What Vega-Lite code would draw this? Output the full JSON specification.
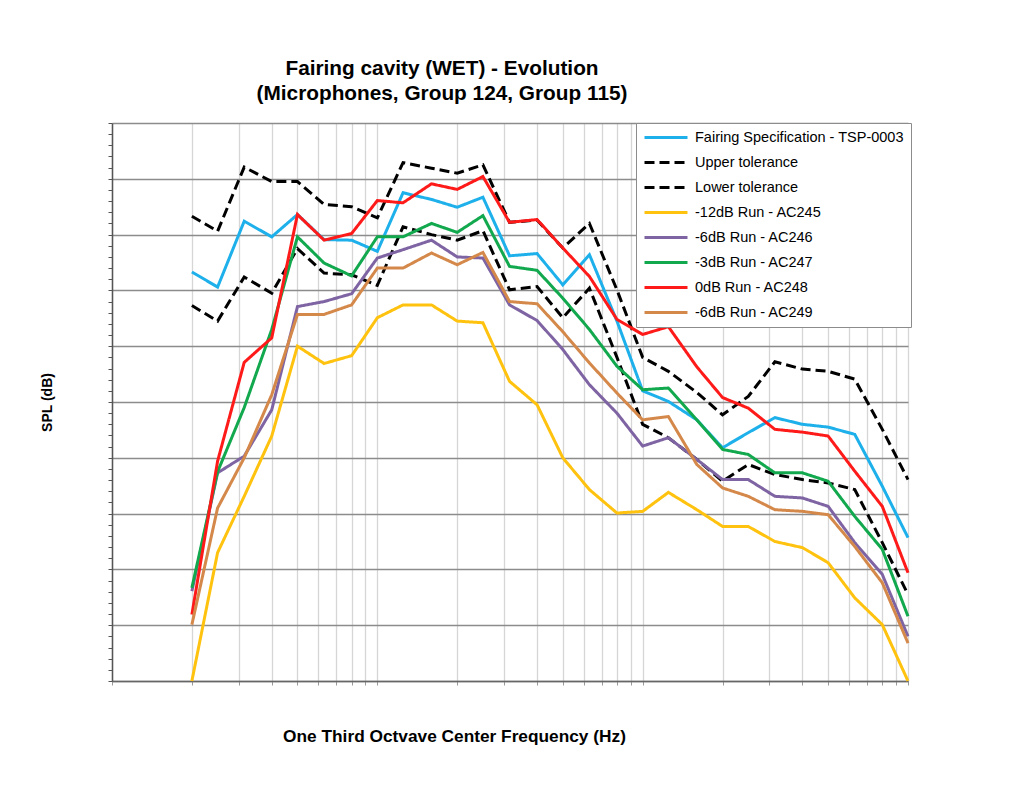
{
  "$schema": "https://vega.github.io/schema/vega-lite/v6.json",
  "width": 796,
  "height": 558,
  "autosize": {"type": "none"},
  "padding": {"left": 112, "top": 123, "right": 124, "bottom": 104},
  "background": "white",
  "title": {
    "text": ["Fairing cavity (WET) - Evolution", "(Microphones, Group 124, Group 115)"],
    "font": "Liberation Sans",
    "fontSize": 20.8,
    "fontWeight": "bold",
    "color": "#000000",
    "anchor": "middle",
    "dx": -68,
    "offset": -2,
    "baseline": "bottom",
    "lineHeight": 25
  },
  "data": {
    "values": [
      {"f": 20, "Fairing Specification - TSP-0003": 123.3, "Upper tolerance": 133.3, "Lower tolerance": 117.3, "-12dB Run - AC245": 50.0, "-6dB Run - AC246": 66.1, "-3dB Run - AC247": 66.7, "0dB Run - AC248": 61.9, "-6dB Run - AC249": 60.1},
      {"f": 25, "Fairing Specification - TSP-0003": 120.6, "Upper tolerance": 130.6, "Lower tolerance": 114.5, "-12dB Run - AC245": 73.0, "-6dB Run - AC246": 87.3, "-3dB Run - AC247": 87.5, "0dB Run - AC248": 89.4, "-6dB Run - AC249": 81.0},
      {"f": 31.5, "Fairing Specification - TSP-0003": 132.4, "Upper tolerance": 142.1, "Lower tolerance": 122.4, "-12dB Run - AC245": 83.1, "-6dB Run - AC246": 90.3, "-3dB Run - AC247": 99.0, "0dB Run - AC248": 107.1, "-6dB Run - AC249": 90.0},
      {"f": 40, "Fairing Specification - TSP-0003": 129.6, "Upper tolerance": 139.5, "Lower tolerance": 119.5, "-12dB Run - AC245": 93.9, "-6dB Run - AC246": 98.6, "-3dB Run - AC247": 113.0, "0dB Run - AC248": 111.5, "-6dB Run - AC249": 101.3},
      {"f": 50, "Fairing Specification - TSP-0003": 133.6, "Upper tolerance": 139.5, "Lower tolerance": 127.5, "-12dB Run - AC245": 110.0, "-6dB Run - AC246": 117.1, "-3dB Run - AC247": 129.6, "0dB Run - AC248": 133.6, "-6dB Run - AC249": 115.7},
      {"f": 63, "Fairing Specification - TSP-0003": 129.1, "Upper tolerance": 135.4, "Lower tolerance": 123.1, "-12dB Run - AC245": 106.9, "-6dB Run - AC246": 118.0, "-3dB Run - AC247": 124.9, "0dB Run - AC248": 129.0, "-6dB Run - AC249": 115.7},
      {"f": 80, "Fairing Specification - TSP-0003": 129.0, "Upper tolerance": 135.0, "Lower tolerance": 122.8, "-12dB Run - AC245": 108.3, "-6dB Run - AC246": 119.4, "-3dB Run - AC247": 122.6, "0dB Run - AC248": 130.2, "-6dB Run - AC249": 117.4},
      {"f": 100, "Fairing Specification - TSP-0003": 127.0, "Upper tolerance": 133.0, "Lower tolerance": 120.9, "-12dB Run - AC245": 115.1, "-6dB Run - AC246": 125.8, "-3dB Run - AC247": 129.6, "0dB Run - AC248": 136.1, "-6dB Run - AC249": 124.0},
      {"f": 125, "Fairing Specification - TSP-0003": 137.5, "Upper tolerance": 142.9, "Lower tolerance": 131.4, "-12dB Run - AC245": 117.4, "-6dB Run - AC246": 127.3, "-3dB Run - AC247": 129.6, "0dB Run - AC248": 135.7, "-6dB Run - AC249": 124.0},
      {"f": 160, "Fairing Specification - TSP-0003": 136.3, "Upper tolerance": 141.9, "Lower tolerance": 130.0, "-12dB Run - AC245": 117.4, "-6dB Run - AC246": 129.0, "-3dB Run - AC247": 132.0, "0dB Run - AC248": 139.1, "-6dB Run - AC249": 126.7},
      {"f": 200, "Fairing Specification - TSP-0003": 134.9, "Upper tolerance": 141.0, "Lower tolerance": 129.0, "-12dB Run - AC245": 114.5, "-6dB Run - AC246": 126.0, "-3dB Run - AC247": 130.4, "0dB Run - AC248": 138.1, "-6dB Run - AC249": 124.6},
      {"f": 250, "Fairing Specification - TSP-0003": 136.7, "Upper tolerance": 142.5, "Lower tolerance": 130.7, "-12dB Run - AC245": 114.2, "-6dB Run - AC246": 125.8, "-3dB Run - AC247": 133.4, "0dB Run - AC248": 140.4, "-6dB Run - AC249": 126.8},
      {"f": 315, "Fairing Specification - TSP-0003": 126.2, "Upper tolerance": 132.2, "Lower tolerance": 120.1, "-12dB Run - AC245": 103.7, "-6dB Run - AC246": 117.4, "-3dB Run - AC247": 124.3, "0dB Run - AC248": 132.2, "-6dB Run - AC249": 118.0},
      {"f": 400, "Fairing Specification - TSP-0003": 126.6, "Upper tolerance": 132.6, "Lower tolerance": 120.7, "-12dB Run - AC245": 99.5, "-6dB Run - AC246": 114.6, "-3dB Run - AC247": 123.6, "0dB Run - AC248": 132.7, "-6dB Run - AC249": 117.6},
      {"f": 500, "Fairing Specification - TSP-0003": 121.0, "Upper tolerance": 127.6, "Lower tolerance": 115.1, "-12dB Run - AC245": 90.0, "-6dB Run - AC246": 109.4, "-3dB Run - AC247": 118.6, "0dB Run - AC248": 127.6, "-6dB Run - AC249": 112.6},
      {"f": 630, "Fairing Specification - TSP-0003": 126.4, "Upper tolerance": 132.0, "Lower tolerance": 120.4, "-12dB Run - AC245": 84.3, "-6dB Run - AC246": 103.1, "-3dB Run - AC247": 113.0, "0dB Run - AC248": 122.5, "-6dB Run - AC249": 107.0},
      {"f": 800, "Fairing Specification - TSP-0003": 114.5, "Upper tolerance": 120.1, "Lower tolerance": 108.0, "-12dB Run - AC245": 80.1, "-6dB Run - AC246": 98.0, "-3dB Run - AC247": 106.4, "0dB Run - AC248": 114.8, "-6dB Run - AC249": 101.6},
      {"f": 1000, "Fairing Specification - TSP-0003": 102.0, "Upper tolerance": 108.0, "Lower tolerance": 96.0, "-12dB Run - AC245": 80.4, "-6dB Run - AC246": 92.1, "-3dB Run - AC247": 102.2, "0dB Run - AC248": 112.1, "-6dB Run - AC249": 96.8},
      {"f": 1250, "Fairing Specification - TSP-0003": 100.1, "Upper tolerance": 105.5, "Lower tolerance": 93.6, "-12dB Run - AC245": 83.8, "-6dB Run - AC246": 93.6, "-3dB Run - AC247": 102.5, "0dB Run - AC248": 113.5, "-6dB Run - AC249": 97.4},
      {"f": 1600, "Fairing Specification - TSP-0003": 96.8, "Upper tolerance": 101.7, "Lower tolerance": 89.7, "-12dB Run - AC245": 80.7, "-6dB Run - AC246": 89.7, "-3dB Run - AC247": 96.8, "0dB Run - AC248": 106.3, "-6dB Run - AC249": 88.8},
      {"f": 2000, "Fairing Specification - TSP-0003": 91.8, "Upper tolerance": 97.7, "Lower tolerance": 85.8, "-12dB Run - AC245": 77.7, "-6dB Run - AC246": 86.1, "-3dB Run - AC247": 91.5, "0dB Run - AC248": 100.8, "-6dB Run - AC249": 84.6},
      {"f": 2500, "Fairing Specification - TSP-0003": 94.5, "Upper tolerance": 101.0, "Lower tolerance": 88.8, "-12dB Run - AC245": 77.7, "-6dB Run - AC246": 86.1, "-3dB Run - AC247": 90.6, "0dB Run - AC248": 98.9, "-6dB Run - AC249": 83.1},
      {"f": 3150, "Fairing Specification - TSP-0003": 97.2, "Upper tolerance": 107.2, "Lower tolerance": 87.0, "-12dB Run - AC245": 75.0, "-6dB Run - AC246": 83.1, "-3dB Run - AC247": 87.3, "0dB Run - AC248": 95.1, "-6dB Run - AC249": 80.7},
      {"f": 4000, "Fairing Specification - TSP-0003": 96.0, "Upper tolerance": 105.9, "Lower tolerance": 86.1, "-12dB Run - AC245": 73.9, "-6dB Run - AC246": 82.8, "-3dB Run - AC247": 87.3, "0dB Run - AC248": 94.6, "-6dB Run - AC249": 80.4},
      {"f": 5000, "Fairing Specification - TSP-0003": 95.5, "Upper tolerance": 105.5, "Lower tolerance": 85.5, "-12dB Run - AC245": 71.2, "-6dB Run - AC246": 81.3, "-3dB Run - AC247": 85.8, "0dB Run - AC248": 93.9, "-6dB Run - AC249": 79.8},
      {"f": 6300, "Fairing Specification - TSP-0003": 94.2, "Upper tolerance": 104.1, "Lower tolerance": 84.3, "-12dB Run - AC245": 64.9, "-6dB Run - AC246": 74.8, "-3dB Run - AC247": 79.5, "0dB Run - AC248": 87.6, "-6dB Run - AC249": 74.1},
      {"f": 8000, "Fairing Specification - TSP-0003": 84.9, "Upper tolerance": 95.1, "Lower tolerance": 74.8, "-12dB Run - AC245": 60.1, "-6dB Run - AC246": 69.1, "-3dB Run - AC247": 73.6, "0dB Run - AC248": 81.3, "-6dB Run - AC249": 67.6},
      {"f": 10000, "Fairing Specification - TSP-0003": 75.7, "Upper tolerance": 86.1, "Lower tolerance": 65.5, "-12dB Run - AC245": 50.0, "-6dB Run - AC246": 58.0, "-3dB Run - AC247": 61.6, "0dB Run - AC248": 69.4, "-6dB Run - AC249": 56.8}
    ]
  },
  "transform": [
    {"fold": ["Fairing Specification - TSP-0003", "Upper tolerance", "Lower tolerance", "-12dB Run - AC245", "-6dB Run - AC246", "-3dB Run - AC247", "0dB Run - AC248", "-6dB Run - AC249"], "as": ["series", "spl"]}
  ],
  "mark": {"type": "line", "strokeWidth": 3, "clip": false},
  "encoding": {
    "x": {
      "field": "f",
      "type": "quantitative",
      "scale": {"type": "log", "domain": [10, 10000], "nice": false},
      "axis": {
        "values": [10, 20, 30, 40, 50, 60, 70, 80, 90, 100, 200, 300, 400, 500, 600, 700, 800, 900, 1000, 2000, 3000, 4000, 5000, 6000, 7000, 8000, 9000, 10000],
        "labels": false,
        "title": "One Third Octvave Center Frequency (Hz)",
        "titleFont": "Liberation Sans",
        "titleFontSize": 17.3,
        "titleFontWeight": "bold",
        "titleColor": "#000000",
        "titleX": 342,
        "titleY": 55,
        "titleAlign": "center",
        "titleBaseline": "middle",
        "grid": true,
        "gridColor": "#d6d6d6",
        "gridWidth": 1.3,
        "domainColor": "#666666",
        "domainWidth": 1.5,
        "tickColor": "#999999",
        "tickSize": 4
      }
    },
    "y": {
      "field": "spl",
      "type": "quantitative",
      "scale": {"domain": [50, 150], "nice": false, "zero": false},
      "axis": {
        "values": [50, 52, 54, 56, 58, 60, 62, 64, 66, 68, 70, 72, 74, 76, 78, 80, 82, 84, 86, 88, 90, 92, 94, 96, 98, 100, 102, 104, 106, 108, 110, 112, 114, 116, 118, 120, 122, 124, 126, 128, 130, 132, 134, 136, 138, 140, 142, 144, 146, 148, 150],
        "labels": false,
        "title": "SPL (dB)",
        "titleFont": "Liberation Sans",
        "titleFontSize": 14,
        "titleFontWeight": "bold",
        "titleColor": "#000000",
        "titleX": -65,
        "titleY": 279,
        "titleAngle": -90,
        "titleAlign": "center",
        "titleBaseline": "middle",
        "grid": true,
        "gridColor": "#8c8c8c",
        "gridWidth": 1.6,
        "gridOpacity": {"condition": {"test": "datum.value % 10 === 0", "value": 1}, "value": 0},
        "domainColor": "#555555",
        "domainWidth": 1.5,
        "tickColor": "#555555",
        "tickSize": 4
      }
    },
    "color": {
      "field": "series",
      "type": "nominal",
      "scale": {
        "domain": ["Fairing Specification - TSP-0003", "Upper tolerance", "Lower tolerance", "-12dB Run - AC245", "-6dB Run - AC246", "-3dB Run - AC247", "0dB Run - AC248", "-6dB Run - AC249"],
        "range": ["#1db0ea", "#000000", "#000000", "#ffc20e", "#7f64a3", "#12a84e", "#ff1a1a", "#d4884a"]
      },
      "legend": {"title": null}
    },
    "strokeDash": {
      "field": "series",
      "type": "nominal",
      "scale": {
        "domain": ["Fairing Specification - TSP-0003", "Upper tolerance", "Lower tolerance", "-12dB Run - AC245", "-6dB Run - AC246", "-3dB Run - AC247", "0dB Run - AC248", "-6dB Run - AC249"],
        "range": [[1, 0], [10, 5], [10, 5], [1, 0], [1, 0], [1, 0], [1, 0], [1, 0]]
      },
      "legend": {"title": null}
    }
  },
  "config": {
    "view": {"stroke": null},
    "legend": {
      "orient": "none",
      "legendX": 524,
      "legendY": 0,
      "symbolType": "stroke",
      "symbolSize": 1849,
      "symbolStrokeWidth": 3,
      "labelFont": "Liberation Sans",
      "labelFontSize": 14.5,
      "labelColor": "#000000",
      "labelOffset": 6,
      "labelLimit": 300,
      "clipHeight": 15,
      "rowPadding": 9,
      "padding": 7,
      "fillColor": "white",
      "strokeColor": "#8c8c8c",
      "cornerRadius": 0
    }
  }
}
